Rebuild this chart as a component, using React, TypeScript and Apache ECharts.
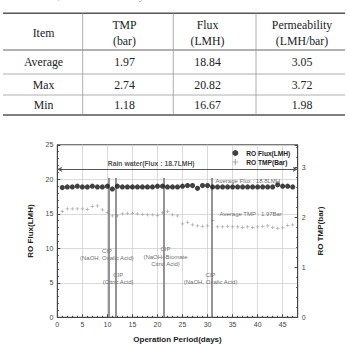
import React, { useEffect, useRef } from "react";
import * as echarts from "echarts";

const caption = "Table 3. TMP, Flux and Permeability of RO";
const tableHeaders = ["Item", "TMP\n(bar)", "Flux\n(LMH)", "Permeability\n(LMH/bar)"];
const rowLabels = ["Average", "Max", "Min"];
const tmpStats = [1.97, 2.74, 1.18];
const fluxStats = [18.84, 20.82, 16.67];
const permStats = [3.05, 3.72, 1.98];

const days = Array.from({ length: 47 }, (_, i) => i + 1);
const fluxValues = [
  18.8, 18.9, 18.9, 19.0, 18.9, 18.9, 19.0, 18.9, 18.9, 19.0,
  18.6, 19.0, 18.9, 18.9, 18.9, 18.9, 18.9, 18.9, 18.9, 19.0,
  19.0, 18.9, 18.9, 18.9, 19.0, 19.1, 19.1, 18.7, 19.1, 19.1,
  18.9, 18.9, 18.9, 18.9, 18.9, 18.9, 18.9, 18.9, 18.9, 18.9,
  18.9, 18.9, 18.9, 19.2, 19.0, 19.0, 18.9,
];
const tmpValues = [
  2.12, 2.17, 2.17, 2.17, 2.17, 2.16, 2.22, 2.23, 2.15, 2.10,
  2.03, 2.03, 2.07, 2.08, 2.08, 2.07, 2.06, 2.05, 2.05, 2.04,
  2.09, 2.12, 2.05, 2.03, 1.87, 1.90, 1.85, 1.83, 1.82, 1.83,
  1.94, 1.81, 1.81, 1.82, 1.81, 1.81, 1.80, 1.81, 1.80, 1.81,
  1.82, 1.83, 1.80, 1.78, 1.79, 1.84, 1.85,
];

const cipDays = [10.3, 11.7, 21.3, 30.8];
const cipTop = 20.2;
const rainWaterLevel = 21.45;
const annotations = [
  { name: "CIP\n(NaOH, Oxalic Acid)", x: 9.9, y: 9.15, align: "center" },
  { name: "CIP\n(Citric Acid)", x: 12.15, y: 5.6, align: "center" },
  { name: "CIP\n(NaOH+Biomate\nCitric Acid)", x: 21.6, y: 8.8, align: "center" },
  { name: "CIP\n(NaOH, Oxalic Acid)", x: 30.6, y: 5.6, align: "center" },
  { name: "Average Flux : 18.8LMH", x: 31.6, y: 19.8, align: "left" },
  { name: "Average TMP : 1.97Bar", x: 32.4, y: 14.95, align: "left" },
];
const rainLabel = { name: "Rain water(Flux : 18.7LMH)", x: 18.75, y: 22.25 };

const SANS = "'Liberation Sans', Arial, sans-serif";
const SERIF = "'Liberation Serif', 'Times New Roman', serif";

export default function App() {
  const ref = useRef<HTMLDivElement>(null);
  useEffect(() => {
    if (!ref.current) return;
    const chart = echarts.init(ref.current, null, { renderer: "svg" });

    const colX = [43.5, 124.5, 207.5, 302];
    const rowY = [62.3, 85.3, 105.3];
    const dividers = [82.7, 173.3, 256];
    const graphics: any[] = [];
    graphics.push({
      type: "text", x: 8, y: 1.8,
      style: { text: caption, font: `9.2px ${SERIF}`, fill: "#666", verticalAlign: "bottom" },
    });
    const hline = (y: number, w: number, c: string) => ({
      type: "line", shape: { x1: 3, y1: y, x2: 345, y2: y }, style: { stroke: c, lineWidth: w },
    });
    graphics.push(hline(13.3, 1.6, "#555"));
    graphics.push(hline(50, 1.2, "#666"));
    graphics.push(hline(74, 0.8, "#999"));
    graphics.push(hline(95, 0.8, "#999"));
    graphics.push(hline(115, 1.6, "#555"));
    dividers.forEach((x) =>
      graphics.push({ type: "line", shape: { x1: x, y1: 13.3, x2: x, y2: 115 }, style: { stroke: "#999", lineWidth: 0.8 } })
    );
    tableHeaders.forEach((h, i) =>
      graphics.push({
        type: "text", x: colX[i], y: 33.3,
        style: { text: h, font: `11.8px ${SERIF}`, fill: "#222", align: "center", verticalAlign: "middle", lineHeight: 16 },
      })
    );
    rowLabels.forEach((r, j) => {
      const cells = [r, tmpStats[j].toFixed(2), fluxStats[j].toFixed(2), permStats[j].toFixed(2)];
      cells.forEach((c, i) =>
        graphics.push({
          type: "text", x: colX[i], y: rowY[j],
          style: { text: c, font: `11.8px ${SERIF}`, fill: "#222", align: "center", verticalAlign: "middle" },
        })
      );
    });

    const plusPath = "path://M2,0H3V2H5V3H3V5H2V3H0V2H2Z";
    const axisLabelStyle = { fontSize: 7, color: "#444", fontFamily: SANS };
    const nameStyle = { fontSize: 8, fontWeight: "bold" as const, color: "#222", fontFamily: SANS };

    const option: any = {
      animation: false,
      textStyle: { fontFamily: SANS },
      graphic: graphics,
      grid: {
        left: 57.3, right: 49.3, top: 144.8, bottom: 27.7,
        show: true, borderColor: "#444", borderWidth: 1, backgroundColor: "transparent",
      },
      legend: {
        orient: "vertical", left: 232.3, top: 149.5, padding: 0, itemWidth: 6, itemHeight: 6, itemGap: 2,
        data: [
          { name: "RO Flux(LMH)", icon: "circle" },
          { name: "RO TMP(Bar)", icon: plusPath, itemStyle: { color: "#999" } },
        ],
        textStyle: { fontSize: 6.6, fontWeight: "bold", color: "#222", fontFamily: SANS, padding: [0, 0, 0, 3] },
      },
      xAxis: {
        type: "value", min: 0, max: 48, interval: 5,
        name: "Operation Period(days)", nameLocation: "middle", nameGap: 18, nameTextStyle: nameStyle,
        axisLine: { show: true, lineStyle: { color: "#444" } },
        axisTick: { show: true, inside: true, length: 3, lineStyle: { color: "#444" } },
        minorTick: { show: true, splitNumber: 5, length: 1.5, lineStyle: { color: "#444" } },
        axisLabel: { ...axisLabelStyle, margin: 4, showMaxLabel: false },
        splitLine: { show: true, lineStyle: { color: "#d0d0d0", width: 0.8 } },
      },
      yAxis: [
        {
          type: "value", min: 0, max: 25, interval: 5,
          name: "RO Flux(LMH)", nameLocation: "middle", nameGap: 16, nameTextStyle: nameStyle,
          axisLine: { show: true, lineStyle: { color: "#444" } },
          axisTick: { show: true, inside: true, length: 3, lineStyle: { color: "#444" } },
          minorTick: { show: true, splitNumber: 5, length: 1.5, lineStyle: { color: "#444" } },
          axisLabel: { ...axisLabelStyle, margin: 4 },
          splitLine: { show: true, lineStyle: { color: "#d0d0d0", width: 0.8 } },
        },
        {
          type: "value", min: 0, max: 3.45, interval: 1, position: "right",
          name: "RO TMP(bar)", nameLocation: "middle", nameGap: 16, nameTextStyle: nameStyle,
          axisLine: { show: true, lineStyle: { color: "#444" } },
          axisTick: { show: true, inside: true, length: 3, lineStyle: { color: "#444" } },
          minorTick: { show: true, splitNumber: 5, length: 1.5, lineStyle: { color: "#444" } },
          axisLabel: { ...axisLabelStyle, margin: 4, showMaxLabel: false },
          splitLine: { show: false },
        },
      ],
      series: [
        {
          name: "RO Flux(LMH)", type: "scatter", yAxisIndex: 0, symbol: "circle", symbolSize: 5.2,
          itemStyle: { color: "#111" },
          data: days.map((d, i) => [d, fluxValues[i]]),
          z: 5,
        },
        {
          name: "RO TMP(Bar)", type: "scatter", yAxisIndex: 1, symbol: plusPath, symbolSize: 3.6,
          itemStyle: { color: "#999" },
          data: days.map((d, i) => [d, tmpValues[i]]),
          z: 4,
        },
        {
          name: "annotations", type: "scatter", yAxisIndex: 0, symbolSize: 0,
          silent: true,
          data: annotations.map((a) => ({
            name: a.name, value: [a.x, a.y],
            label: {
              show: true, position: "inside", formatter: "{b}", align: a.align, verticalAlign: "middle",
              fontSize: 6, color: "#444", fontFamily: SANS, lineHeight: 7.2,
            },
          })).concat([{
            name: rainLabel.name, value: [rainLabel.x, rainLabel.y],
            label: {
              show: true, position: "inside", formatter: "{b}", align: "center", verticalAlign: "middle",
              fontSize: 6.8, fontWeight: "bold", color: "#222", fontFamily: SANS, lineHeight: 8,
            } as any,
          }]),
          markLine: {
            silent: true, symbol: "none", animation: false,
            label: { show: false },
            data: [
              ...cipDays.map((d) => [
                { coord: [d, 0], lineStyle: { color: "#7a7a7a", width: 1.6, type: "solid" } },
                { coord: [d, cipTop] },
              ]),
              [
                { coord: [0, rainWaterLevel], symbol: "arrow", symbolSize: [4, 5], lineStyle: { color: "#555", width: 1, type: "solid" } },
                { coord: [48, rainWaterLevel], symbol: "arrow", symbolSize: [4, 5] },
              ],
            ],
          },
          z: 3,
        },
      ],
    };
    chart.setOption(option);
    return () => chart.dispose();
  }, []);
  return (
    <div
      ref={ref}
      style={{ position: "fixed", left: 0, top: 0, width: 347, height: 345, background: "#fff" }}
    />
  );
}
